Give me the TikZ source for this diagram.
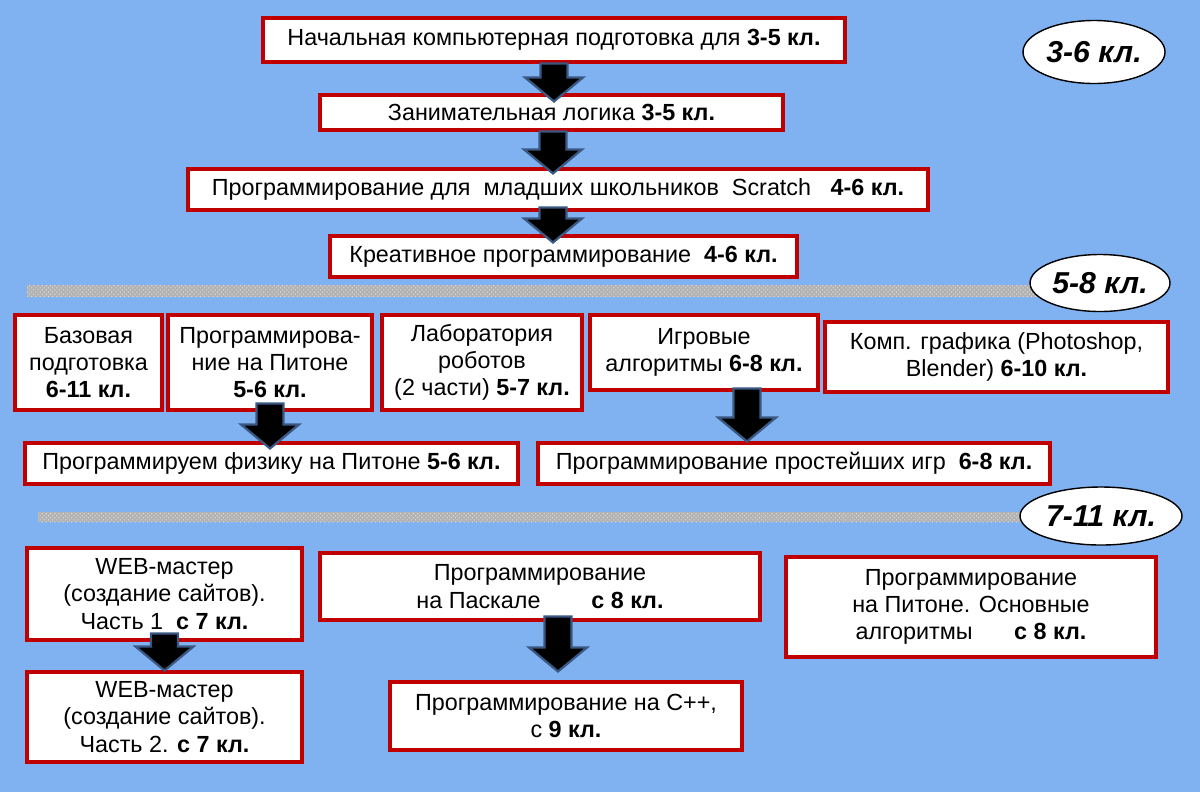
\documentclass[tikz,border=0pt]{standalone}
\usepackage{fontspec}
\setmainfont{Liberation Sans}
\usetikzlibrary{shapes.geometric, calc, patterns}
\definecolor{skyblue}{RGB}{128, 178, 242}
\definecolor{boxred}{RGB}{192, 0, 0}
\definecolor{arrowedge}{RGB}{58, 88, 130}
\tikzset{
    boxsize/.style n args={2}{minimum width=#1*0.025cm, minimum height=#2*0.025cm},
    course/.style={draw=boxred, line width=2.2pt, fill=white, rectangle, align=center, inner sep=2pt, font=\fontsize{16.6}{19.4}\selectfont},
    agebadge/.style={draw=black, line width=1pt, fill=white, ellipse, inner sep=0pt, font=\fontsize{21.5}{24}\selectfont\bfseries\itshape},
    divider/.style={fill=gray!60},
    blockarrow/.style={fill=black, draw=arrowedge, line width=1.6pt, line join=miter},
}
% block arrow pointing down: #1 start, #2 tip (x taken from #1)
\newcommand{\blockdown}[2]{%
    \coordinate (bt) at (#1 |- #2);
    \draw[blockarrow] ($(#1)+(-13.5,0)$) -- ($(#1)+(13.5,0)$) -- ($(bt)+(13.5,-24)$)
        -- ($(bt)+(29,-24)$) -- (bt) -- ($(bt)+(-29,-24)$) -- ($(bt)+(-13.5,-24)$) -- cycle;}

\begin{document}
\begin{tikzpicture}[x=0.025cm, y=-0.025cm]
    % background
    \fill[skyblue] (0,0) rectangle (1200,792);
    \useasboundingbox (0,0) rectangle (1200,792);

    % dividers
    \fill[divider] (27,285) rectangle (1040,297);
    \fill[pattern=crosshatch dots, pattern color=gray!25] (27,285) rectangle (1040,297);
    \fill[divider] (38,512) rectangle (1030,522);
    \fill[pattern=crosshatch dots, pattern color=gray!25] (38,512) rectangle (1030,522);

    % age badges
    \node[agebadge, boxsize={142}{63}] (age1) at (1094,52) {3-6 кл.};
    \node[agebadge, boxsize={140}{57}] (age2) at (1100,283) {5-8 кл.};
    \node[agebadge, boxsize={162}{58}] (age3) at (1101,516) {7-11 кл.};

    % 3-6
    \node[course, boxsize={582}{44}] (intro) at (554,40)
        {Начальная компьютерная подготовка для \textbf{3-5 кл.}};
    \node[course, boxsize={463}{35}] (logic) at (551.5,112.5)
        {Занимательная логика \textbf{3-5 кл.}};
    \node[course, boxsize={740}{41}] (scratch) at (558,189.5)
        {Программирование для \ младших школьников \ Scratch \ \ \textbf{4-6 кл.}};
    \node[course, boxsize={467}{41}] (creative) at (563.5,256.5)
        {Креативное программирование \ \textbf{4-6 кл.}};

    % 5-8
    \node[course, boxsize={147}{95}] (basic) at (88.5,362.5)
        {Базовая\\подготовка\\\textbf{6-11 кл.}};
    \node[course, boxsize={204}{95}] (python) at (270,362.5)
        {Программирова-\\ние на Питоне\\\textbf{5-6 кл.}};
    \node[course, boxsize={200}{95}] (robots) at (482,362.5)
        {Лаборатория\\роботов\\(2 части) \textbf{5-7 кл.}};
    \node[course, boxsize={228}{75}] (games) at (704,352.5)
        {Игровые\\алгоритмы \textbf{6-8 кл.}};
    \node[course, boxsize={343}{70}] (graphics) at (996.5,357)
        {Комп. графика (Photoshop,\\Blender) \textbf{6-10 кл.}};
    \node[course, boxsize={493}{41}] (physics) at (271.5,463.5)
        {Программируем физику на Питоне \textbf{5-6 кл.}};
    \node[course, boxsize={512}{41}] (simplegames) at (794,463.5)
        {Программирование простейших игр \ \textbf{6-8 кл.}};

    % 7-11
    \node[course, boxsize={275}{92}] (web1) at (164.5,594)
        {WEB-мастер\\(создание сайтов).\\Часть 1 \ \textbf{с 7 кл.}};
    \node[course, boxsize={440}{67}] (pascal) at (540,586.5)
        {Программирование\\на Паскале \hspace{1.9em}\textbf{с 8 кл.}};
    \node[course, boxsize={370}{100}] (pyalgo) at (971,607)
        {Программирование\\на Питоне. Основные\\алгоритмы \hspace{1.5em}\textbf{с 8 кл.}};
    \node[course, boxsize={275}{90}] (web2) at (164.5,717)
        {WEB-мастер\\(создание сайтов).\\Часть 2. \textbf{с 7 кл.}};
    \node[course, boxsize={352}{68}] (cpp) at (566,716)
        {Программирование на C++,\\с \textbf{9 кл.}};

    % arrows
    \coordinate (t1) at ($(logic.north)+(0,8)$);
    \blockdown{intro.south}{t1}
    \coordinate (s2) at ($(logic.south)+(1.5,0)$);
    \coordinate (t2) at ($(scratch.north)+(0,6)$);
    \blockdown{s2}{t2}
    \coordinate (s3) at ($(scratch.south)+(-5,-4)$);
    \coordinate (t3) at ($(creative.north)+(0,8)$);
    \blockdown{s3}{t3}
    \coordinate (s4) at ($(python.south)+(0,-8)$);
    \coordinate (t4) at ($(physics.north)+(0,7)$);
    \blockdown{s4}{t4}
    \coordinate (s5) at ($(games.south)+(43,-3)$);
    \blockdown{s5}{simplegames.north}
    \coordinate (s6) at ($(web1.south)+(0,-8)$);
    \blockdown{s6}{web2.north}
    \coordinate (s7) at ($(pascal.south)+(18,-5)$);
    \coordinate (t7) at ($(cpp.north)+(0,-9)$);
    \blockdown{s7}{t7}
\end{tikzpicture}
\end{document}
